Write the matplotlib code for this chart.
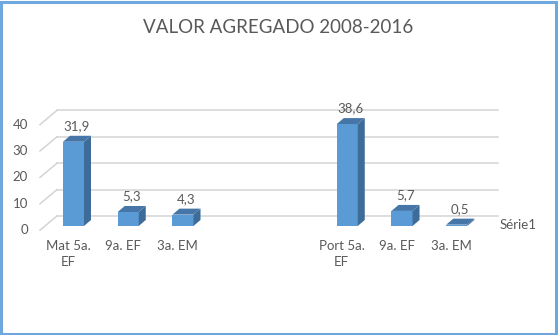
import matplotlib.pyplot as plt
from matplotlib.patches import Polygon, Rectangle

# Dados do gráfico (duas posições vazias separam Matemática de Português)
categorias = ["Mat 5a.\nEF", "9a. EF", "3a. EM", "", "", "Port 5a.\nEF", "9a. EF", "3a. EM"]
valores = [31.9, 5.3, 4.3, None, None, 38.6, 5.7, 0.5]
rotulos = ["31,9", "5,3", "4,3", None, None, "38,6", "5,7", "0,5"]
eixo_y = [0, 10, 20, 30, 40]
titulo = "VALOR AGREGADO 2008-2016"
serie = "Série1"

plt.rcParams['font.family'] = ['Lato', 'DejaVu Sans']
cinza = '#595959'
grade = '#d4d4d4'
cor_frente = '#5b9bd5'
cor_lado = '#3d6c98'
cor_topo = '#4675a8'

fig = plt.figure(figsize=(5.58, 3.35), dpi=100)
ax = fig.add_axes([0, 0, 1, 1])
ax.set_xlim(-1.342, 8.849)
ax.set_ylim(-41.3, 85.6)
ax.axis('off')

# profundidade das barras e da parede (unidades de categoria / valor)
larg = 0.384
dx, dy = 0.128, 2.27
fundo_x0, fundo_x1, fundo_dy = -0.301, 7.753, 3.79
frente_x, frente_dy = -0.612, -1.6

# grade no plano de fundo e diagonais da parede esquerda
for v in eixo_y:
    ax.plot([fundo_x0, fundo_x1], [v + fundo_dy, v + fundo_dy], color=grade, lw=1.1, zorder=1)
    ax.plot([frente_x, fundo_x0], [v + frente_dy, v + fundo_dy], color=grade, lw=1.1, zorder=1)
    ax.text(frente_x - 0.22, v + frente_dy, str(v), ha='right', va='center',
            fontsize=9.5, color=cinza)

for i, (v, r) in enumerate(zip(valores, rotulos)):
    if v is None:
        continue
    x0 = i - larg / 2
    x1 = i + larg / 2
    ax.add_patch(Rectangle((x0, 0), larg, v, facecolor=cor_frente, edgecolor='none', zorder=3))
    ax.add_patch(Polygon([(x1, 0), (x1 + dx, dy), (x1 + dx, v + dy), (x1, v)],
                         facecolor=cor_lado, edgecolor='none', zorder=3))
    ax.add_patch(Polygon([(x0, v), (x1, v), (x1 + dx, v + dy), (x0 + dx, v + dy)],
                         facecolor=cor_topo, edgecolor='none', zorder=3))
    ax.text(i + dx / 2, v + dy + 3.6, r, ha='center', va='center', fontsize=9.5, color=cinza)

for i, c in enumerate(categorias):
    if c:
        ax.text(i - 0.1, -5.5, c, ha='center', va='top', fontsize=9.5, color=cinza,
                linespacing=1.4)

ax.text(7.78, 0.5, serie, ha='left', va='center', fontsize=9.5, color=cinza)

fig.text(0.499, 0.918, titulo, ha='center', va='center', fontsize=13.5, color=cinza)

# moldura azul do gráfico
fig.patches.append(Rectangle((0.002, 0.003), 0.994, 0.992, transform=fig.transFigure,
                             fill=False, edgecolor='#6fa8dc', lw=2.2))

fig.savefig('out.png', dpi=100)
